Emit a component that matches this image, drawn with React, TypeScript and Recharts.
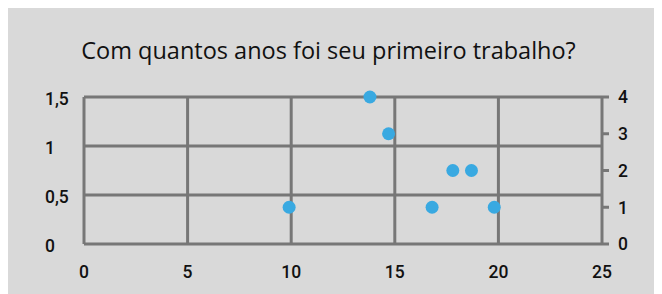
import { ScatterChart, Scatter, XAxis, YAxis, CartesianGrid } from "recharts";

const title = "Com quantos anos foi seu primeiro trabalho?";

// idade do primeiro trabalho x número de respostas
const ages = [9.9, 13.8, 14.7, 16.8, 17.8, 18.7, 19.8];
const counts = [1, 4, 3, 1, 2, 2, 1];

const xTicks = [0, 5, 10, 15, 20, 25];
const leftTicks = [0, 0.5, 1, 1.5];
const rightTicks = [0, 1, 2, 3, 4];

const data = ages.map((age, i) => ({ age, count: counts[i] }));

const GRID = "#777777";
const DOT = "#39a9e1";
const tickFont = { fontFamily: "Roboto, sans-serif", fontSize: 17.5, fontWeight: 500, fill: "#111" };

const fmt = (v: number) => String(v).replace(".", ",");

function LeftTick(props: any) {
  const { x, y, payload } = props;
  return (
    <text x={x} y={y + 2} dy="0.36em" textAnchor="start" {...tickFont}>
      {fmt(payload.value)}
    </text>
  );
}

function RightTick(props: any) {
  const { x, y, payload } = props;
  return (
    <text x={x} y={y} dy="0.36em" textAnchor="start" {...tickFont}>
      {payload.value}
    </text>
  );
}

function BottomTick(props: any) {
  const { x, y, payload } = props;
  return (
    <text x={x} y={y} dy="0.36em" textAnchor="middle" {...tickFont}>
      {payload.value}
    </text>
  );
}

export default function App() {
  return (
    <div
      style={{
        position: "relative",
        width: 658,
        height: 288,
        marginLeft: -4,
        marginTop: -2,
        background: "#d9d9d9",
      }}
    >
      <div
        style={{
          position: "absolute",
          left: 0,
          top: 33,
          width: 649,
          textAlign: "center",
          fontFamily: "'Open Sans', sans-serif",
          fontSize: 23.5,
          lineHeight: 1,
          color: "#111",
        }}
      >
        {title}
      </div>
      <ScatterChart width={658} height={288} margin={{ top: 91, right: 0, bottom: 0, left: 0 }}>
        <CartesianGrid yAxisId="left" stroke={GRID} strokeWidth={3} />
        <XAxis
          type="number"
          dataKey="age"
          domain={[0, 25]}
          ticks={xTicks}
          interval={0}
          height={50}
          axisLine={false}
          tickLine={false}
          tickSize={0}
          tickMargin={28}
          tick={<BottomTick />}
        />
        <YAxis
          yAxisId="left"
          type="number"
          domain={[0, 1.5]}
          allowDataOverflow
          ticks={leftTicks}
          interval={0}
          width={80}
          axisLine={false}
          tickLine={false}
          tickSize={0}
          tickMargin={39}
          tick={<LeftTick />}
        />
        <YAxis
          yAxisId="right"
          orientation="right"
          type="number"
          dataKey="count"
          domain={[0, 4]}
          ticks={rightTicks}
          interval={0}
          width={60}
          axisLine={false}
          tickLine={{ stroke: GRID, strokeWidth: 3 }}
          tickSize={7}
          tickMargin={9}
          tick={<RightTick />}
        />
        <Scatter
          yAxisId="right"
          data={data}
          isAnimationActive={false}
          shape={(p: any) => <circle cx={p.cx} cy={p.cy} r={6.5} fill={DOT} />}
        />
      </ScatterChart>
    </div>
  );
}
